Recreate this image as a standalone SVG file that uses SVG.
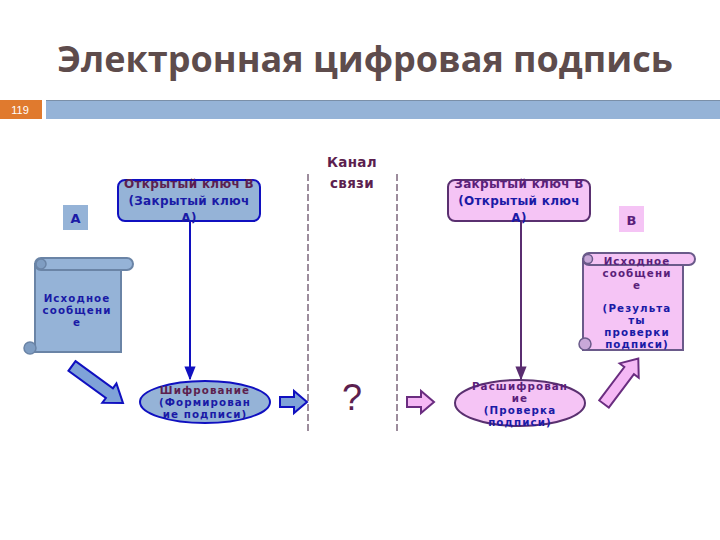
<svg xmlns="http://www.w3.org/2000/svg" width="720" height="540" viewBox="0 0 720 540">
<style>
.t{font-family:"DejaVu Sans","Liberation Sans",sans-serif;font-weight:bold;font-size:10.3px;letter-spacing:1.1px;text-anchor:middle}
.k{font-size:12px;letter-spacing:0.3px}
.pu{fill:#5c1f4f}
.bl{fill:#1a1aa6}
.vi{fill:#5a1f7a}
.bluebox{fill:#95b3d7;stroke:#1010c0;stroke-width:2}
.pinkbox{fill:#f5c4f5;stroke:#5a3070;stroke-width:2}
.bscroll{fill:#95b3d7;stroke:#6a84a6;stroke-width:2}
.pscroll{fill:#f5c4f5;stroke:#6a5a8a;stroke-width:2}
.sep{stroke:#3a1a3a;stroke-width:1;stroke-dasharray:7 3;fill:none}
.barrow{fill:#7fa2d8;stroke:#1010c0;stroke-width:2}
.parrow{fill:#f5b8f5;stroke:#6a2d80;stroke-width:2}
</style>
<defs>
<marker id="ab" viewBox="0 0 10 10" refX="9" refY="5" markerWidth="7" markerHeight="7" orient="auto"><path d="M0,1 L10,5 L0,9 z" fill="#1010c0"/></marker>
<marker id="ap" viewBox="0 0 10 10" refX="9" refY="5" markerWidth="7" markerHeight="7" orient="auto"><path d="M0,1 L10,5 L0,9 z" fill="#5a2d70"/></marker>
<path id="blk" d="M0,-6 L44,-6 L44,-12 L60,0 L44,12 L44,6 L0,6 z"/>
<path id="hblk" d="M0,-5 L14,-5 L14,-11 L27,0 L14,11 L14,5 L0,5 z"/>
</defs>
<rect width="720" height="540" fill="#ffffff"/>
<text x="365" y="72" font-family="'Open Sans','Liberation Sans',sans-serif" font-weight="bold" font-size="36" fill="#5e4c4c" text-anchor="middle">Электронная цифровая подпись</text>
<rect x="0" y="100" width="42" height="19" fill="#e07a2e"/>
<text x="20" y="114" font-family="'Liberation Sans',sans-serif" font-size="11" fill="#ffffff" text-anchor="middle">119</text>
<rect x="46" y="100" width="674" height="19" fill="#95b3d7"/>
<line x1="46" y1="100.5" x2="720" y2="100.5" stroke="#7a8fa8" stroke-width="1"/>
<line x1="308" y1="174" x2="308" y2="432" class="sep"/>
<line x1="397" y1="174" x2="397" y2="434" class="sep"/>
<g id="channel">
<text x="352" y="167" class="t pu" style="font-size:13.5px;letter-spacing:0.3px">Канал</text>
<text x="352" y="188" class="t pu" style="font-size:13.5px;letter-spacing:0.3px">связи</text>
<text x="352" y="410" font-family="'Liberation Sans',sans-serif" font-size="36" fill="#5c1f4f" text-anchor="middle">?</text>
</g>
<g id="labelA">
<rect x="63" y="205" width="25" height="25" fill="#95b3d7"/>
<text x="75.5" y="223" class="t bl" style="font-size:13px;letter-spacing:0">A</text>
</g>
<g id="labelB">
<rect x="619" y="206" width="25" height="26" fill="#f5c4f5"/>
<text x="631.5" y="225" class="t vi" style="font-size:13px;letter-spacing:0">B</text>
</g>
<g id="keyA">
<rect x="118" y="180" width="142" height="41" rx="7" class="bluebox"/>
<text x="189" y="188" class="t k pu">Открытый ключ В</text>
<text x="189" y="205" class="t k bl">(Закрытый ключ</text>
<text x="189" y="222" class="t k bl">А)</text>
</g>
<g id="keyB">
<rect x="448" y="180" width="142" height="41" rx="7" class="pinkbox"/>
<text x="519" y="188" class="t k vi">Закрытый ключ В</text>
<text x="519" y="205" class="t k bl">(Открытый ключ</text>
<text x="519" y="222" class="t k bl">А)</text>
</g>
<g id="msgA">
<rect x="35" y="264" width="86" height="88" class="bscroll"/>
<rect x="35" y="258" width="98" height="12" rx="6" class="bscroll"/>
<circle cx="41" cy="264" r="5" fill="#7f9dc2" stroke="#6a84a6" stroke-width="1.5"/>
<circle cx="30" cy="348" r="6" fill="#7f9dc2" stroke="#6a84a6" stroke-width="1.5"/>
<text x="77" y="302" class="t bl">Исходное</text>
<text x="77" y="314" class="t bl">сообщени</text>
<text x="77" y="326" class="t bl">е</text>
</g>
<g id="msgB">
<rect x="583" y="259" width="100" height="91" class="pscroll"/>
<rect x="583" y="253" width="112" height="12" rx="6" class="pscroll"/>
<circle cx="588" cy="259" r="4.5" fill="#c8a8d8" stroke="#6a5a8a" stroke-width="1.5"/>
<circle cx="585" cy="344" r="6" fill="#c8a8d8" stroke="#6a5a8a" stroke-width="1.5"/>
<text x="637" y="265" class="t vi">Исходное</text>
<text x="637" y="277" class="t vi">сообщени</text>
<text x="637" y="289" class="t vi">е</text>
<text x="637" y="312" class="t bl">(Результа</text>
<text x="637" y="324" class="t bl">ты</text>
<text x="637" y="336" class="t bl">проверки</text>
<text x="637" y="348" class="t bl">подписи)</text>
</g>
<g id="encrypt">
<ellipse cx="205" cy="402" rx="65" ry="21" class="bluebox"/>
<text x="205" y="394" class="t pu">Шифрование</text>
<text x="205" y="406" class="t bl">(Формирован</text>
<text x="205" y="418" class="t bl">ие подписи)</text>
</g>
<g id="decrypt">
<ellipse cx="520" cy="403" rx="65" ry="23" class="pinkbox"/>
<text x="520" y="390" class="t vi">Расшифрован</text>
<text x="520" y="402" class="t vi">ие</text>
<text x="520" y="414" class="t bl">(Проверка</text>
<text x="520" y="426" class="t bl">подписи)</text>
</g>
<g id="connectors">
<line x1="190" y1="222" x2="190" y2="379" stroke="#1010c0" stroke-width="2" marker-end="url(#ab)"/>
<line x1="521" y1="222" x2="521" y2="379" stroke="#5a2d70" stroke-width="2" marker-end="url(#ap)"/>
<use href="#blk" class="barrow" transform="translate(72,366) rotate(36) scale(1.05,1)"/>
<use href="#hblk" class="barrow" transform="translate(280,402)"/>
<use href="#hblk" class="parrow" transform="translate(407,402)"/>
<use href="#blk" class="parrow" transform="translate(604,404) rotate(-53) scale(0.95,1)"/>
</g>
</svg>
